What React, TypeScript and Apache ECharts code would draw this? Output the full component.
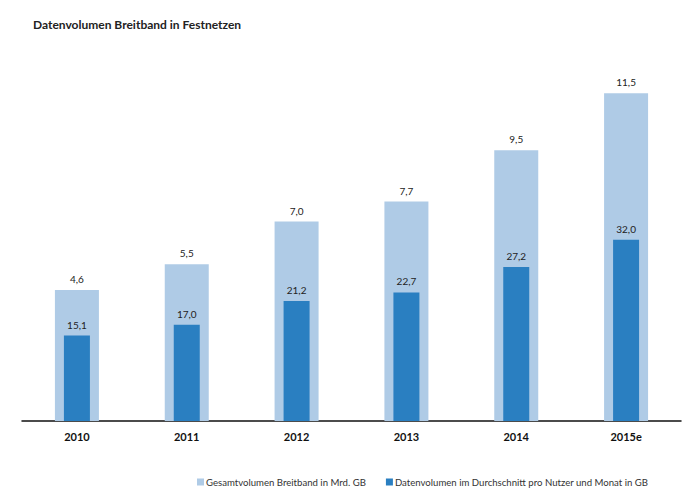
import React, { useEffect, useRef } from "react";
import * as echarts from "echarts";

const categories = ["2010", "2011", "2012", "2013", "2014", "2015e"];
const totalVolume = [4.6, 5.5, 7.0, 7.7, 9.5, 11.5];
const avgVolume = [15.1, 17.0, 21.2, 22.7, 27.2, 32.0];
const seriesNames = [
  "Gesamtvolumen Breitband in Mrd. GB",
  "Datenvolumen im Durchschnitt pro Nutzer und Monat in GB",
];
const titleText = "Datenvolumen Breitband in Festnetzen";

const FONT = "Lato";
const fmt = (p: any) => Number(p.value).toFixed(1).replace(".", ",");

export default function App() {
  const ref = useRef<HTMLDivElement>(null);
  useEffect(() => {
    if (!ref.current) return;
    const chart = echarts.init(ref.current, undefined, { renderer: "svg" });
    chart.setOption({
      animation: false,
      backgroundColor: "#ffffff",
      textStyle: { fontFamily: FONT },
      title: {
        text: titleText,
        left: 28,
        top: 13,
        textStyle: { fontFamily: FONT, fontSize: 12, fontWeight: "bold", color: "#222" },
      },
      legend: {
        data: seriesNames,
        left: 192,
        top: 472,
        icon: "rect",
        itemWidth: 7,
        itemHeight: 7,
        itemGap: 20,
        textStyle: { fontFamily: FONT, fontSize: 9.6, color: "#333", padding: [0, 0, 0, -3] },
      },
      grid: { left: 22, right: 19, top: 79, bottom: 79 },
      xAxis: [
        {
          type: "category",
          data: categories,
          axisLine: { lineStyle: { color: "#111", width: 1.5 } },
          axisTick: { show: false },
          axisLabel: { fontFamily: FONT, fontSize: 11, fontWeight: "bold", color: "#111", margin: 10 },
        },
        {
          type: "category",
          data: categories,
          show: false,
        },
      ],
      yAxis: [
        { type: "value", min: 0, max: 12, show: false, splitLine: { show: false } },
        { type: "value", min: 0, max: 60.4, show: false, splitLine: { show: false } },
      ],
      series: [
        {
          name: seriesNames[0],
          type: "bar",
          xAxisIndex: 0,
          yAxisIndex: 0,
          data: totalVolume,
          barWidth: 44,
          itemStyle: { color: "#afcbe6" },
          label: { show: true, position: "top", distance: 6, formatter: fmt, fontFamily: FONT, fontSize: 10, color: "#222" },
        },
        {
          name: seriesNames[1],
          type: "bar",
          xAxisIndex: 1,
          yAxisIndex: 1,
          data: avgVolume,
          barWidth: 26,
          itemStyle: { color: "#2a7fc1" },
          label: { show: true, position: "top", distance: 6, formatter: fmt, fontFamily: FONT, fontSize: 10, color: "#222" },
        },
      ],
    });
    return () => chart.dispose();
  }, []);
  return (
    <div
      ref={ref}
      style={{ position: "absolute", left: 0, top: 0, width: 700, height: 500 }}
    />
  );
}
